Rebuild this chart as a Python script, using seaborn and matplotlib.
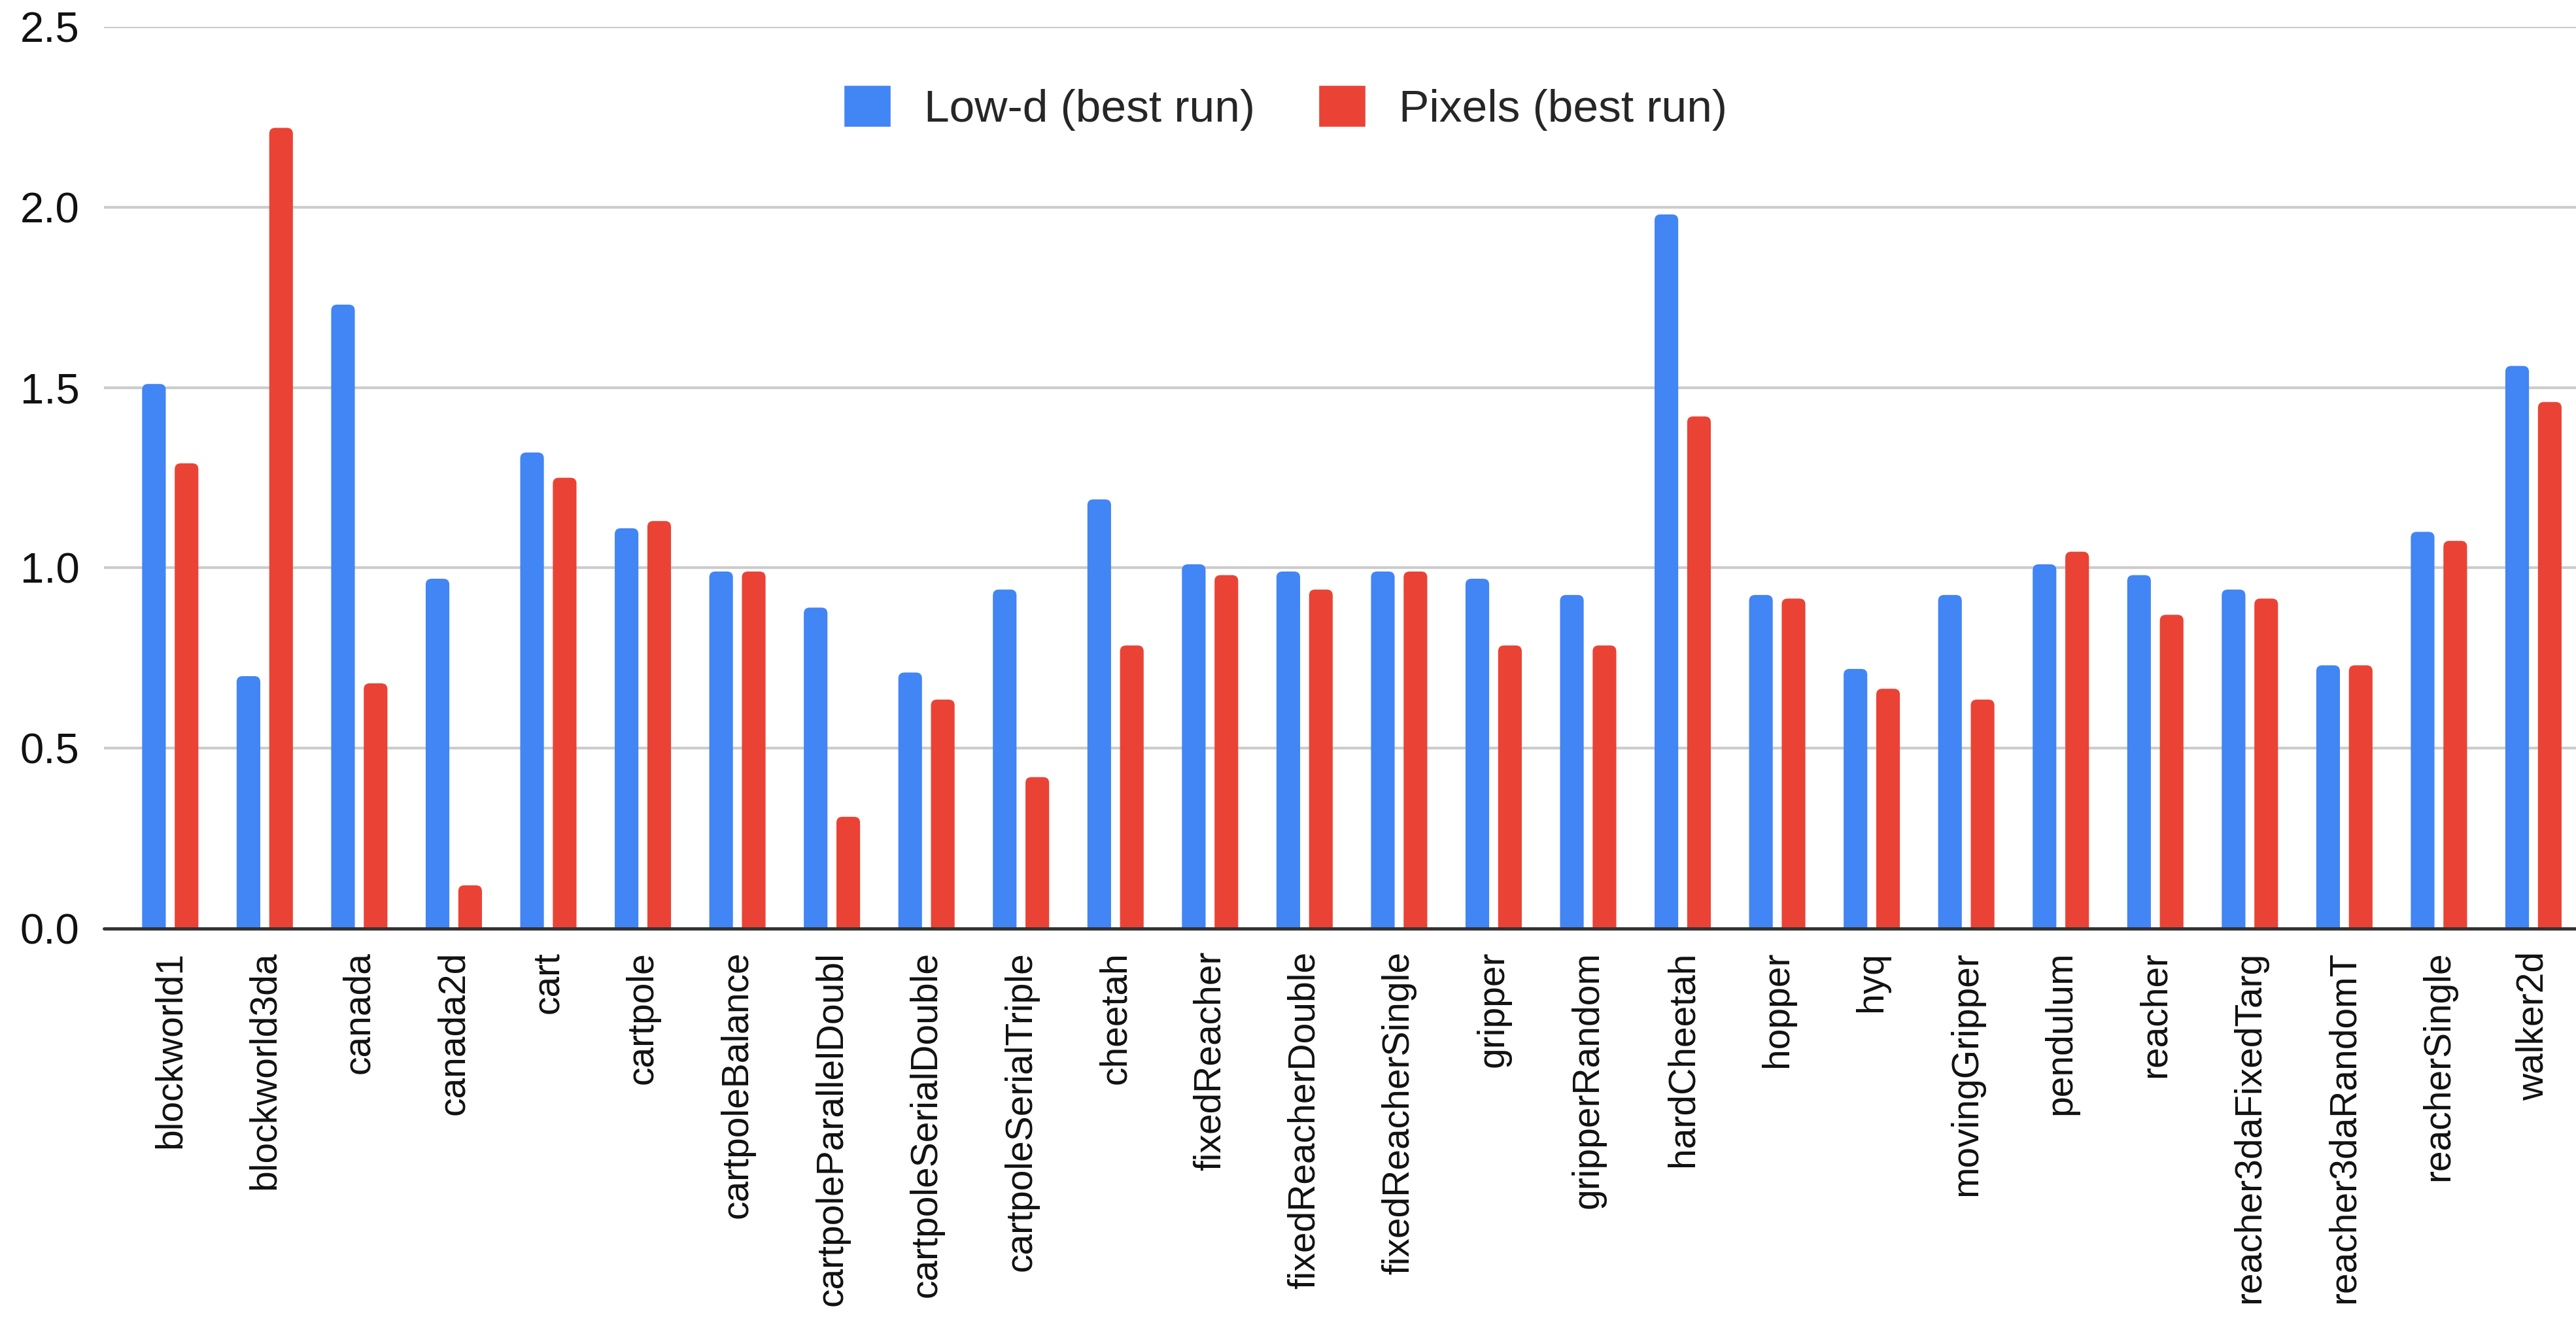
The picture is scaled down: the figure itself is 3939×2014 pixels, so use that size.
import matplotlib
matplotlib.use("Agg")
import matplotlib.pyplot as plt
from matplotlib.patches import FancyBboxPatch, Rectangle
import seaborn as sns
import pandas as pd

categories = ["blockworld1", "blockworld3da", "canada", "canada2d", "cart", "cartpole",
              "cartpoleBalance", "cartpoleParallelDoubl", "cartpoleSerialDouble",
              "cartpoleSerialTriple", "cheetah", "fixedReacher", "fixedReacherDouble",
              "fixedReacherSingle", "gripper", "gripperRandom", "hardCheetah", "hopper",
              "hyq", "movingGripper", "pendulum", "reacher", "reacher3daFixedTarg",
              "reacher3daRandomT", "reacherSingle", "walker2d"]
lowd = [1.51, 0.70, 1.73, 0.97, 1.32, 1.11, 0.99, 0.89, 0.71, 0.94, 1.19, 1.01, 0.99,
        0.99, 0.97, 0.925, 1.98, 0.925, 0.72, 0.925, 1.01, 0.98, 0.94, 0.73, 1.10, 1.56]
pixels = [1.29, 2.22, 0.68, 0.12, 1.25, 1.13, 0.99, 0.31, 0.635, 0.42, 0.785, 0.98, 0.94,
          0.99, 0.785, 0.785, 1.42, 0.915, 0.665, 0.635, 1.045, 0.87, 0.915, 0.73, 1.075, 1.46]
series_names = ["Low-d (best run)", "Pixels (best run)"]
colors = ["#4285F4", "#EA4335"]
yticks = [0.0, 0.5, 1.0, 1.5, 2.0, 2.5]

df = pd.DataFrame({
    "category": categories * 2,
    "value": lowd + pixels,
    "series": [series_names[0]] * len(categories) + [series_names[1]] * len(categories),
})

sns.set_style("white")
plt.rcParams["font.family"] = ["Liberation Sans", "DejaVu Sans"]

W, H = 3939, 2014
fig = plt.figure(figsize=(W / 100, H / 100), dpi=100)
ax_rect = [0.0404, 0.2949, 0.9596, 0.6847]
ax = fig.add_axes(ax_rect)

sns.barplot(data=df, x="category", y="value", hue="series", palette=colors,
            width=0.69, gap=0.275, saturation=1, ax=ax, zorder=2)

ymax = 2.5
xlim = (-0.70, len(categories) - 1 + 0.45)
ax.set_ylim(0, ymax)
ax.set_xlim(*xlim)

# round the top corners of the bars (Google-Charts look)
px_per_x = ax_rect[2] * W / (xlim[1] - xlim[0])
px_per_y = ax_rect[3] * H / ymax
r_px = 9.0
rx = r_px / px_per_x
aspect = px_per_x / px_per_y
bars = [p for p in ax.patches if isinstance(p, Rectangle) and p.get_height() > 0]
for p in bars:
    x, y = p.get_x(), p.get_y()
    w, h = p.get_width(), p.get_height()
    ext = r_px / px_per_y
    fb = FancyBboxPatch((x, y - ext), w, h + ext,
                        boxstyle=f"round,pad=0,rounding_size={rx}",
                        mutation_aspect=aspect, facecolor=p.get_facecolor(),
                        edgecolor="none", linewidth=0, zorder=2)
    p.set_visible(False)
    ax.add_patch(fb)

ax.set_yticks(yticks)
ax.set_yticklabels([f"{t:.1f}" for t in yticks])
ax.yaxis.grid(True, color="#cccccc", linewidth=3.0, zorder=0)
ax.set_axisbelow(True)
ax.axhline(0, color="#333333", linewidth=3.6, zorder=3, clip_on=False)
for s in ax.spines.values():
    s.set_visible(False)
ax.tick_params(axis="y", length=0, pad=27, labelsize=47, labelcolor="#111111")
ax.tick_params(axis="x", length=0, pad=25, labelsize=41, labelcolor="#111111", labelrotation=90)
ax.set_xlabel("")
ax.set_ylabel("")

sns.move_legend(ax, loc="center", bbox_to_anchor=(0.499, 0.918), bbox_transform=fig.transFigure,
                ncol=2, title=None, frameon=False, fontsize=50, handlelength=1.03,
                handleheight=1.03, handletextpad=0.74, columnspacing=1.4)

fig.savefig("out.png", dpi=100, facecolor="white")
